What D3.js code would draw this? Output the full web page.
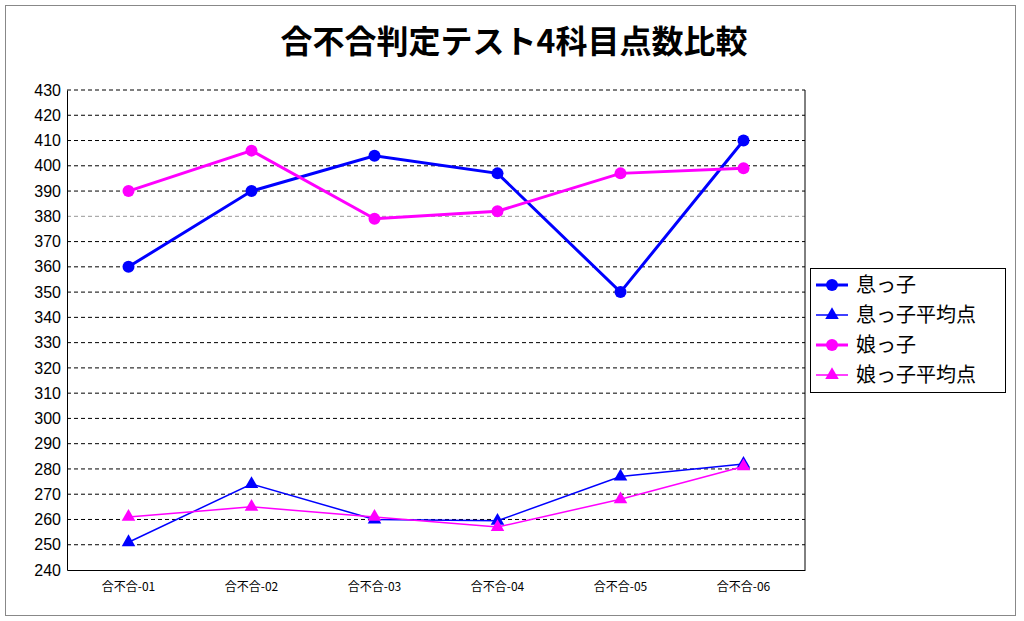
<!DOCTYPE html>
<html><head><meta charset="utf-8">
<script src="https://cdn.jsdelivr.net/npm/d3@7"></script>
<style>body{margin:0;background:#fff}</style></head>
<body><svg id="c" width="1024" height="621"></svg>
<script>
const categories=["合不合-01","合不合-02","合不合-03","合不合-04","合不合-05","合不合-06"];
const sonScores=[360,390,404,397,350,410];
const sonAvg=[251,274,260,259.5,277,282];
const daughterScores=[390,406,379,382,397,399];
const daughterAvg=[261,265,261,257,268,281];
const yTicks=d3.range(240,431,10);
const series=[
 {name:"息っ子",values:sonScores,color:"#0000ff",shape:"circle",w:3},
 {name:"息っ子平均点",values:sonAvg,color:"#0000ff",shape:"triangle",w:1.5},
 {name:"娘っ子",values:daughterScores,color:"#ff00ff",shape:"circle",w:3},
 {name:"娘っ子平均点",values:daughterAvg,color:"#ff00ff",shape:"triangle",w:1.5}
];
const svg=d3.select("#c");
const F="'Liberation Sans',Arial,sans-serif", FJ="'Noto Sans CJK JP',sans-serif";
svg.append("rect").attr("x",5.5).attr("y",5.5).attr("width",1010).attr("height",610).attr("fill","#fff").attr("stroke","#888");
const L=67,R=805,T=90,B=570;
const x=d3.scaleBand().domain(categories).range([L,R]);
const y=d3.scaleLinear().domain([240,430]).range([B,T]);
svg.append("text").attr("x",514).attr("y",53).attr("text-anchor","middle").attr("font-family",FJ).attr("font-size",32).attr("font-weight","bold").text("合不合判定テスト4科目点数比較");
const g=svg.append("g");
yTicks.forEach(t=>{ if(t>240) g.append("line").attr("x1",L).attr("x2",R).attr("y1",y(t)).attr("y2",y(t)).attr("stroke",t==380?"#999":"#000").attr("stroke-dasharray","4,3");});
g.append("g").attr("transform",`translate(${L},0)`).call(d3.axisLeft(y).tickValues(yTicks).tickSize(0).tickPadding(6))
 .call(a=>{a.select(".domain").attr("stroke","#000");a.selectAll("text").attr("font-family",F).attr("font-size",16).attr("fill","#000");});
g.append("g").attr("transform",`translate(0,${B})`).call(d3.axisBottom(x).tickSize(0).tickPadding(12))
 .call(a=>{a.select(".domain").attr("stroke","#000");a.selectAll("text").attr("font-family",FJ).attr("font-size",12).attr("fill","#000");});
g.append("line").attr("x1",R).attr("x2",R).attr("y1",T).attr("y2",B).attr("stroke","#000");
const cx=d=>x(d)+x.bandwidth()/2;
const tri=d3.symbol().type(d3.symbolTriangle).size(80);
function marker(sel,s){ if(s.shape=="circle") return sel.append("circle").attr("r",6).attr("fill",s.color);
 return sel.append("path").attr("d",tri).attr("fill",s.color);}
series.forEach(s=>{
 g.append("path").attr("fill","none").attr("stroke",s.color).attr("stroke-width",s.w)
  .attr("d",d3.line().x((v,i)=>cx(categories[i])).y(v=>y(v))(s.values));
 s.values.forEach((v,i)=>{marker(g.append("g").attr("transform",`translate(${cx(categories[i])},${y(v)})`),s);});
});
const lg=svg.append("g");
lg.append("rect").attr("x",810.5).attr("y",268.5).attr("width",195).attr("height",124).attr("fill","#fff").attr("stroke","#000");
series.forEach((s,i)=>{
 const yy=285+i*30;
 lg.append("line").attr("x1",816).attr("x2",848).attr("y1",yy).attr("y2",yy).attr("stroke",s.color).attr("stroke-width",s.w);
 marker(lg.append("g").attr("transform",`translate(832,${yy})`),s);
 lg.append("text").attr("x",856).attr("y",yy+7).attr("font-family",FJ).attr("font-size",20).text(s.name);
});
</script></body></html>
